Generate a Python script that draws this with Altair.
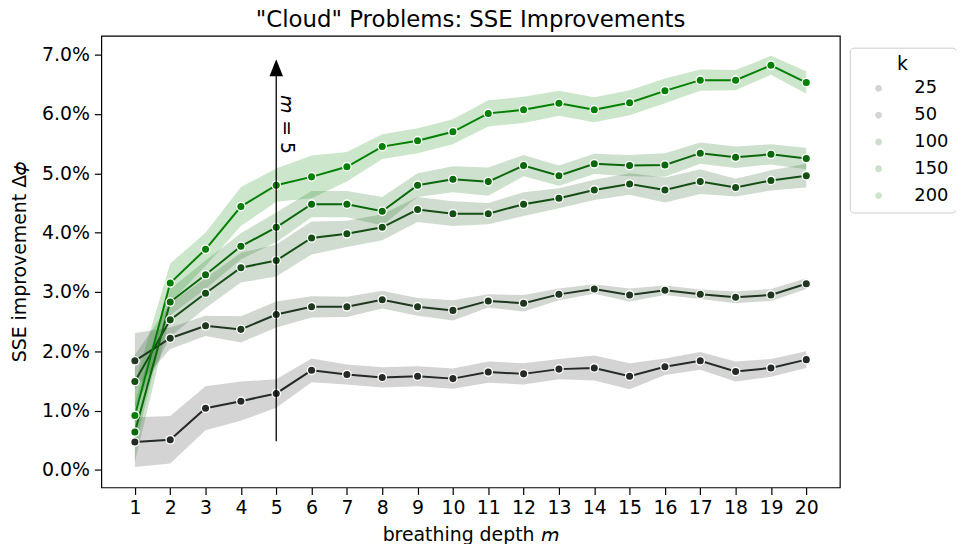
import math
import altair as alt
import pandas as pd

# ---------------- data ----------------
depth = list(range(1, 21))
k_values = [25, 50, 100, 150, 200]
k_colors = ["#262a26", "#1f361f", "#154e15", "#0a670a", "#008000"]

# mean SSE improvement (%) per breathing depth m
imp_25 = [0.47, 0.51, 1.04, 1.16, 1.29, 1.68, 1.61, 1.56, 1.58, 1.54,
          1.65, 1.62, 1.70, 1.72, 1.58, 1.74, 1.84, 1.66, 1.72, 1.86]
imp_50 = [1.84, 2.22, 2.43, 2.37, 2.62, 2.75, 2.75, 2.87, 2.75, 2.69,
          2.85, 2.81, 2.96, 3.05, 2.95, 3.03, 2.96, 2.91, 2.95, 3.14]
imp_100 = [1.49, 2.53, 2.98, 3.41, 3.53, 3.91, 3.98, 4.09, 4.39, 4.32,
           4.32, 4.48, 4.58, 4.72, 4.82, 4.72, 4.86, 4.76, 4.88, 4.96]
imp_150 = [0.64, 2.83, 3.29, 3.77, 4.09, 4.48, 4.48, 4.36, 4.80, 4.90,
           4.86, 5.13, 4.96, 5.16, 5.13, 5.14, 5.34, 5.27, 5.32, 5.25]
imp_200 = [0.92, 3.15, 3.72, 4.44, 4.80, 4.94, 5.11, 5.45, 5.55, 5.70,
           6.01, 6.07, 6.18, 6.07, 6.19, 6.39, 6.57, 6.57, 6.82, 6.53]

# half-width of the confidence band (%)
err_25 = [0.42, 0.40, 0.37, 0.33, 0.24, 0.20, 0.17, 0.17, 0.17, 0.17,
          0.18, 0.18, 0.17, 0.21, 0.22, 0.14, 0.15, 0.17, 0.15, 0.14]
err_50 = [0.47, 0.18, 0.17, 0.22, 0.22, 0.18, 0.17, 0.15, 0.15, 0.17,
          0.11, 0.14, 0.10, 0.08, 0.11, 0.08, 0.08, 0.10, 0.10, 0.09]
err_100 = [0.45, 0.28, 0.25, 0.25, 0.27, 0.28, 0.22, 0.22, 0.21, 0.21,
           0.18, 0.20, 0.17, 0.17, 0.18, 0.21, 0.21, 0.15, 0.17, 0.20]
err_150 = [0.50, 0.22, 0.24, 0.22, 0.25, 0.22, 0.22, 0.24, 0.20, 0.22,
           0.24, 0.18, 0.17, 0.17, 0.18, 0.20, 0.18, 0.18, 0.17, 0.18]
err_200 = [0.55, 0.33, 0.28, 0.33, 0.28, 0.36, 0.25, 0.21, 0.21, 0.21,
           0.22, 0.22, 0.21, 0.21, 0.21, 0.21, 0.18, 0.17, 0.16, 0.19]

y_ticks = [0, 1, 2, 3, 4, 5, 6, 7]

# annotation arrow (m = 5)
arrow_m = [5]
arrow_from = [0.485]
arrow_to = [6.64]
arrow_head = [6.78]
arrow_label_y = [5.82]

# ---------------- table ----------------
series = {25: (imp_25, err_25), 50: (imp_50, err_50), 100: (imp_100, err_100),
          150: (imp_150, err_150), 200: (imp_200, err_200)}
colour_of = dict(zip(k_values, k_colors))
rows = []
for k in k_values:
    vals, errs = series[k]
    for m, v, e in zip(depth, vals, errs):
        rows.append({"m": m, "k": k, "col": colour_of[k],
                     "val": v, "lo": v - e, "hi": v + e})
df = pd.DataFrame(rows)

FONT = "DejaVu Sans"
x_scale = alt.Scale(domain=[0.05, 20.95], nice=False, zero=False)
y_scale = alt.Scale(domain=[-0.294, 7.318], nice=False, zero=False)
c_scale = alt.Scale(domain=k_values, range=k_colors)

x_enc = alt.X("m:Q", scale=x_scale,
              axis=alt.Axis(values=depth, tickCount=20, format="d",
                            title="breathing depth 𝘮",
                            titlePadding=8, labelPadding=4, labelOverlap=False))
y_enc = alt.Y("lo:Q", scale=y_scale,
              axis=alt.Axis(values=y_ticks, labelExpr="format(datum.value, '.1f') + '%'",
                            title="SSE improvement Δ𝜙", titlePadding=12, labelPadding=5,
                            labelOverlap=False))


# legend glyph: a stroked horizontal line plus concentric stroked rings that
# together read as a solid dot (legend symbols are drawn by stroke only)
def ring(r, n=16):
    pts_ = [(r * math.cos(2 * math.pi * i / n), r * math.sin(2 * math.pi * i / n))
            for i in range(n)]
    return "M" + "L".join(f"{x:.4f},{y:.4f}" for x, y in pts_) + "Z"


legend_symbol = "M-1,0L1,0" + ring(0.045) + ring(0.115) + ring(0.165)

leg = alt.Legend(title="k", orient="none", legendX=754, legendY=12,
                 symbolType=legend_symbol, symbolSize=1764, symbolStrokeWidth=2,
                 clipHeight=20, rowPadding=7, labelOffset=14,
                 padding=7, strokeColor="#cccccc", cornerRadius=4, fillColor="white",
                 titleAnchor="middle", titleFontSize=19, titleFontWeight="normal",
                 titleFont=FONT, labelFont=FONT, labelFontSize=18,
                 titleColor="#000", labelColor="#000", symbolOpacity=1)

base = alt.Chart(df)

# bands and lines take their colour straight from the data (no scale, no legend)
bands = base.mark_area(opacity=0.2).encode(
    x=x_enc, y=y_enc, y2="hi:Q",
    color=alt.Color("col:N", scale=None))

lines = base.mark_line(strokeWidth=2).encode(
    x="m:Q", y="val:Q",
    color=alt.Color("col:N", scale=None))

halo = base.mark_point(filled=True, color="white", size=95, opacity=1).encode(
    x="m:Q", y="val:Q", detail="k:O")

pts = base.mark_point(filled=True, size=50, opacity=1).encode(
    x="m:Q", y="val:Q",
    color=alt.Color("k:O", scale=c_scale, legend=leg))

arrow_df = pd.DataFrame({"m": arrow_m, "y0": arrow_from, "y1": arrow_to,
                         "yh": arrow_head, "yt": arrow_label_y})
arrow_line = alt.Chart(arrow_df).mark_rule(color="black", strokeWidth=1.3).encode(
    x="m:Q", y="y0:Q", y2="y1:Q")
arrow_tip = alt.Chart(arrow_df).mark_point(
    shape="M0,-1L0.8,1L-0.8,1Z", filled=True, size=289, color="black", opacity=1
).encode(x="m:Q", y="yh:Q")
arrow_text = alt.Chart(arrow_df).mark_text(
    text="𝘮 = 5", angle=90, dy=-11, fontSize=19, font=FONT, color="black",
    align="center", baseline="middle"
).encode(x="m:Q", y="yt:Q")

chart = alt.layer(bands, lines, halo, pts, arrow_line, arrow_tip, arrow_text).properties(
    width=744, height=455,
    title=alt.TitleParams('"Cloud" Problems: SSE Improvements', fontSize=23, font=FONT,
                          fontWeight="normal", anchor="middle", frame="group",
                          offset=4, color="#000"),
    autosize=alt.AutoSizeParams(type="none"),
    padding={"left": 94, "top": 26, "right": 117, "bottom": 55},
).configure_axis(
    labelFont=FONT, titleFont=FONT, labelFontSize=19, titleFontSize=19,
    titleFontWeight="normal", labelColor="#000", titleColor="#000",
    tickColor="#000", tickSize=7, tickWidth=1.2, grid=False, domain=False
).configure_view(stroke="#000", strokeWidth=1.2)

chart.save("out.html", embed_options={"renderer": "svg", "actions": False})
